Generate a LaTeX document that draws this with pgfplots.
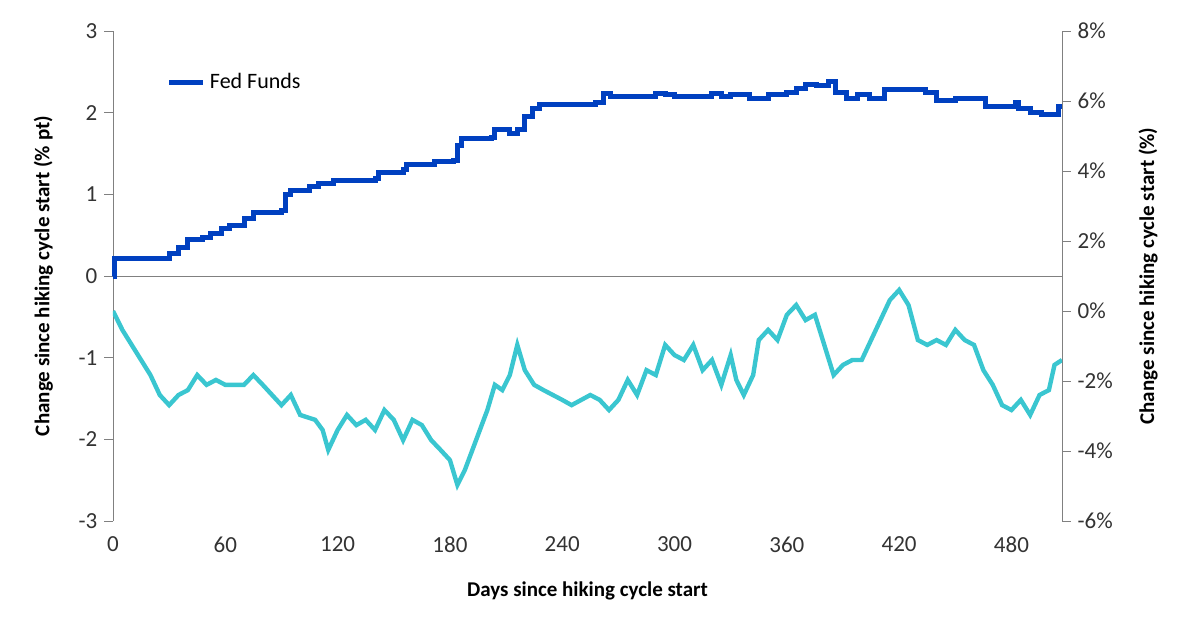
\documentclass[border=0pt]{standalone}
\usepackage{pgfplots}
\pgfplotsset{compat=1.18}
\usepackage{fontspec}
\setmainfont{Carlito}
\definecolor{ffblue}{RGB}{0,64,192}
\definecolor{cyanl}{RGB}{58,198,208}
\begin{document}
\begin{tikzpicture}
\useasboundingbox (-56.5pt,-56pt) rectangle (543.5pt,260.5pt);
\begin{axis}[scale only axis, width=474.5pt, height=245pt, at={(0,0)},
 xmin=0, xmax=507, ymin=-3, ymax=3, ytick={-3,-2,...,3},
 xtick={0,60,...,480}, axis y line*=left, axis x line*=bottom,
 x axis line style={draw=none}, xtick style={draw=none},
 tick align=outside, y axis line style={gray}, ytick style={gray},
 ticklabel style={font=\fontsize{11.5}{13}\selectfont, text=black!80},
 yticklabel={\pgfmathprintnumber[assume math mode=true]{\tick}},
 xticklabel={\pgfmathprintnumber[assume math mode=true]{\tick}},
 xlabel={\bfseries Days since hiking cycle start}, ylabel={\bfseries Change since hiking cycle start (\% pt)},
 label style={font=\fontsize{10.5}{12}\selectfont},
 xlabel style={yshift=-8pt}, ylabel style={yshift=6pt},
 legend image post style={line width=2.5pt},
 legend style={draw=none, fill=none, at={(0.05,0.93)}, anchor=north west, font=\fontsize{11}{13}\selectfont},
 legend cell align=left, clip=false]
\addplot[gray, forget plot] coordinates {(0,0) (507,0)};
\addplot[ffblue, line width=2.5pt, const plot] coordinates {
(0,0) (1,0.22) (28,0.22) (30,0.28) (35,0.35) (40,0.45) (48,0.47) (52,0.52) (58,0.58) (62,0.62) (70,0.7) (75,0.78) (90,0.8) (92,1.0) (95,1.05) (105,1.1) (110,1.13) (118,1.17) (140,1.2) (142,1.27) (155,1.3) (157,1.37) (172,1.4) (182,1.42) (184,1.6) (186,1.68) (202,1.7) (204,1.8) (212,1.75) (216,1.8) (220,1.95) (224,2.05) (228,2.1) (258,2.12) (262,2.23) (266,2.2) (290,2.23) (295,2.22) (300,2.2) (320,2.24) (325,2.2) (330,2.22) (340,2.17) (350,2.22) (360,2.25) (365,2.3) (370,2.35) (376,2.33) (382,2.38) (386,2.25) (392,2.17) (398,2.22) (404,2.17) (412,2.28) (434,2.25) (440,2.15) (450,2.17) (462,2.17) (466,2.07) (480,2.08) (482,2.12) (484,2.05) (490,2.0) (496,1.98) (503,1.98) (505,2.07) (507,2.07)};
\addlegendentry{Fed Funds}
\end{axis}
\begin{axis}[scale only axis, width=474.5pt, height=245pt, at={(0,0)},
 xmin=0, xmax=507, ymin=-6, ymax=8, ytick={-6,-4,...,8},
 axis y line*=right, axis x line=none, tick align=outside,
 y axis line style={gray}, ytick style={gray},
 ticklabel style={font=\fontsize{11.5}{13}\selectfont, text=black!80},
 yticklabel={\pgfmathprintnumber[assume math mode=true]{\tick}\%},
 ylabel={\bfseries Change since hiking cycle start (\%)},
 label style={font=\fontsize{10.5}{12}\selectfont}, ylabel style={yshift=-6pt}]
\addplot[cyanl, line width=2.2pt] coordinates {
(0,0) (5,-0.54) (15,-1.4) (20,-1.83) (25,-2.4) (30,-2.69) (35,-2.4) (40,-2.26) (45,-1.83) (50,-2.11) (55,-1.97) (60,-2.11) (70,-2.11) (75,-1.83) (80,-2.11) (85,-2.4) (90,-2.69) (95,-2.4) (100,-2.97) (108,-3.11) (112,-3.4) (115,-3.97) (120,-3.4) (125,-2.97) (130,-3.26) (135,-3.11) (140,-3.4) (145,-2.83) (150,-3.11) (155,-3.69) (160,-3.11) (165,-3.26) (170,-3.69) (175,-3.97) (180,-4.26) (184,-4.97) (188,-4.54) (192,-3.97) (196,-3.4) (200,-2.83) (204,-2.11) (208,-2.26) (212,-1.83) (216,-0.97) (220,-1.69) (225,-2.11) (230,-2.26) (240,-2.54) (245,-2.69) (255,-2.4) (260,-2.54) (265,-2.83) (270,-2.54) (275,-1.97) (280,-2.4) (285,-1.69) (290,-1.83) (295,-0.97) (300,-1.26) (305,-1.4) (310,-0.97) (315,-1.69) (320,-1.4) (325,-2.11) (330,-1.26) (333,-1.97) (337,-2.4) (342,-1.83) (345,-0.83) (350,-0.54) (355,-0.83) (360,-0.11) (365,0.17) (370,-0.26) (375,-0.11) (380,-0.97) (385,-1.83) (390,-1.54) (395,-1.4) (400,-1.4) (405,-0.83) (410,-0.26) (415,0.31) (420,0.6) (425,0.17) (430,-0.83) (435,-0.97) (440,-0.83) (445,-0.97) (450,-0.54) (455,-0.83) (460,-0.97) (465,-1.69) (470,-2.11) (475,-2.69) (480,-2.83) (485,-2.54) (490,-2.97) (495,-2.4) (500,-2.26) (503,-1.54) (507,-1.4)};
\end{axis}
\end{tikzpicture}
\end{document}
